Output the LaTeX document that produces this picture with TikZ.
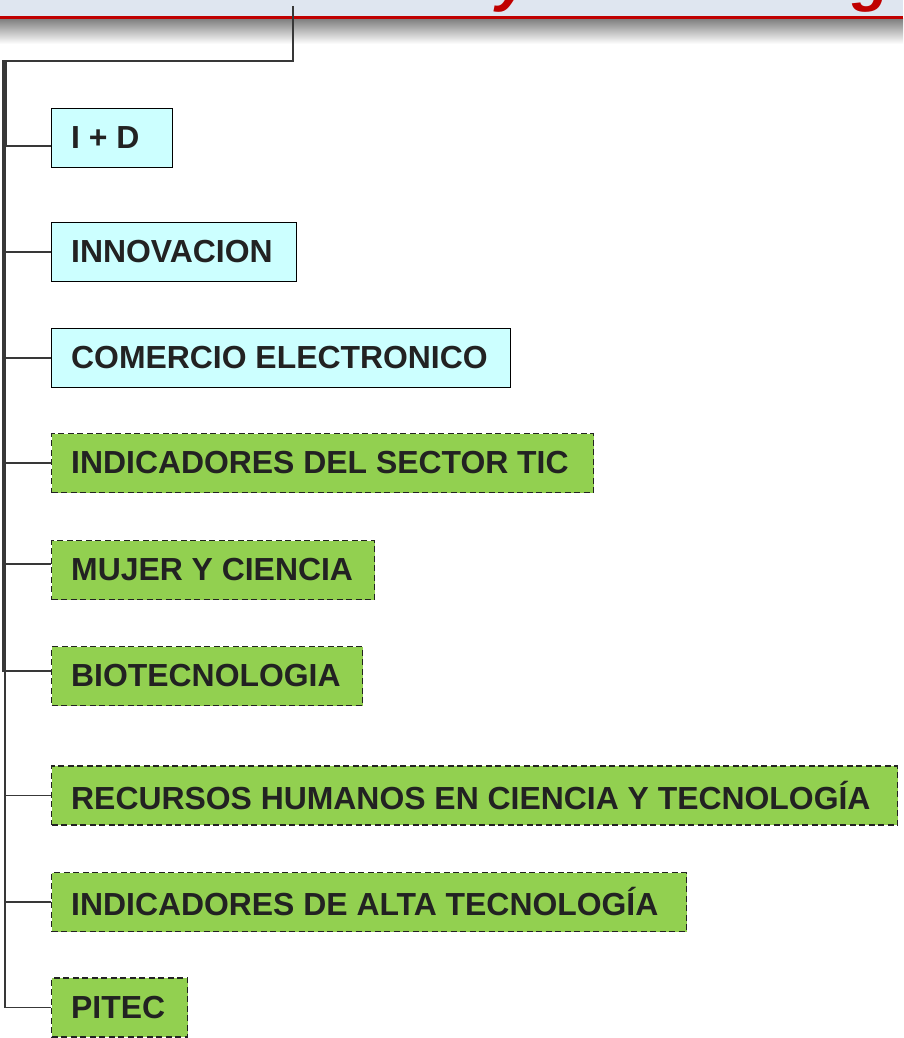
\documentclass[tikz,border=0pt]{standalone}
\usepackage{fontspec}
\setmainfont{Liberation Sans}
\usetikzlibrary{positioning}

\definecolor{cyanbox}{HTML}{CCFFFF}
\definecolor{greenbox}{HTML}{92D050}
\definecolor{banner}{HTML}{DFE6F0}
\definecolor{titlered}{HTML}{C00000}
\definecolor{ink}{HTML}{222222}

\begin{document}
\begin{tikzpicture}[x=1pt, y=-1pt, font=\bfseries\fontsize{31.9}{36}\selectfont]

\tikzset{
  topic/.style={anchor=west, text=ink, minimum height=59pt, inner xsep=19.5pt, inner ysep=0pt,
    execute at begin node={\hbox to \dimexpr#1-39pt\relax\bgroup},
    execute at end node={\hfil\egroup}},
  known/.style={topic=#1, draw=black, line width=1.4pt, fill=cyanbox},
  survey/.style={topic=#1, draw=ink, line width=1.4pt, fill=greenbox, dash pattern=on 6pt off 3.5pt},
  conn/.style={draw=ink!90, line width=1.5pt},
  titlebit/.style={anchor=base west, inner sep=0pt, text=titlered, font=\bfseries\itshape\fontsize{62}{70}\selectfont}
}

\useasboundingbox (0,0) rectangle (903,1038);

% Banner
\fill[banner] (0,0) rectangle (903,17);
\shade[top color=black!50, bottom color=white] (0,19) rectangle (903,44);
\begin{scope}
  \clip (0,0) rectangle (903,17);
  \node[titlebit] (ty) at (496,0) {y};
  \node[titlebit] (tg) at (852,0) {g};
\end{scope}
\fill[titlered] (0,16) rectangle (903,19.5);

% Topics
\node[known=121pt]  (idd)   at (51,138)   {I + D};
\node[known=245pt]  (innov) at (51,252)   {INNOVACION};
\node[known=459pt]  (comel) at (51,358)   {COMERCIO ELECTRONICO};
\node[survey=542pt] (tic)   at (51,463)   {INDICADORES DEL SECTOR TIC};
\node[survey=323pt] (mujer) at (51,570)   {MUJER Y CIENCIA};
\node[survey=311pt] (bio)   at (51,676)   {BIOTECNOLOGIA};
\node[survey=846pt] (rrhh)  at (51,795.5) {RECURSOS HUMANOS EN CIENCIA Y TECNOLOGÍA};
\node[survey=635pt] (alta)  at (51,902)   {INDICADORES DE ALTA TECNOLOGÍA};
\node[survey=136pt] (pitec) at (51,1007.5){PITEC};

% Tree
\coordinate (root) at (293,6);
\coordinate (hub) at (6,61);

\draw[conn] (root) |- (hub) |- ([yshift=-8pt]idd.west);
\foreach \t in {innov, comel, tic, rrhh, alta, pitec}
  \draw[conn] (hub) -- ++(-1,0) |- (\t.west);
\draw[conn] (hub) -- ++(-3,0) |- ([yshift=6pt]mujer.west);
\draw[conn] (hub) -- ++(-3,0) |- ([yshift=5pt]bio.west);

\end{tikzpicture}
\end{document}
